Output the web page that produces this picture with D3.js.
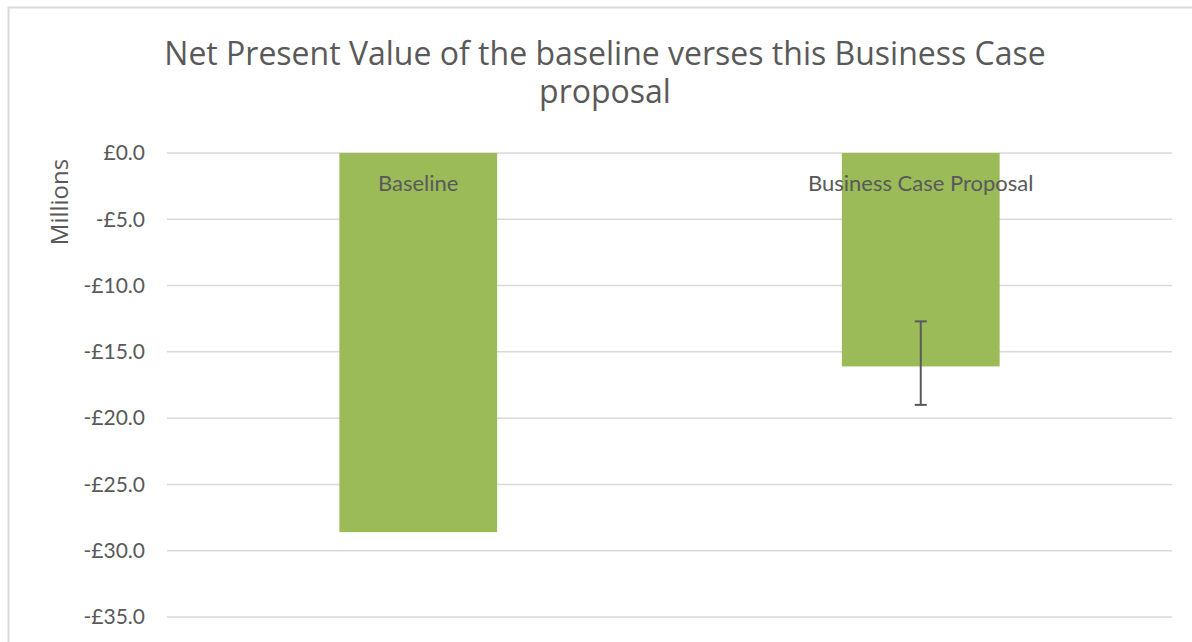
<!DOCTYPE html>
<html>
<head>
<meta charset="utf-8">
<script src="https://cdn.jsdelivr.net/npm/d3@7"></script>
<style>
  html, body { margin: 0; padding: 0; background: #fff; }
  svg { display: block; }
</style>
</head>
<body>
<svg id="chart" width="1192" height="642"></svg>
<script>
// NPV (in £ millions) for each option
const categories = ["Baseline", "Business Case Proposal"];
const npvValues = [-28.6, -16.1];
// custom error range for each option (null = no error bar)
const errorHigh = [null, -12.7];
const errorLow = [null, -19.0];
const yTicks = [0, -5, -10, -15, -20, -25, -30, -35];
const titleLines = ["Net Present Value of the baseline verses this Business Case", "proposal"];
const yAxisTitle = "Millions";

const svg = d3.select("#chart");
const W = 1192, H = 642;
const plot = { left: 167, right: 1172, top: 153, bottom: 617 };

// outer chart border (top and left edges visible)
svg.append("path")
  .attr("d", `M8.5,${H} V7.5 H${W}`)
  .attr("fill", "none")
  .attr("stroke", "#d9d9d9")
  .attr("stroke-width", 2);

const x = d3.scaleBand()
  .domain(categories)
  .range([plot.left, plot.right])
  .paddingInner(0.686)
  .paddingOuter(0.343);

const y = d3.scaleLinear()
  .domain([0, -35])
  .range([plot.top, plot.bottom]);

// gridlines
svg.append("g")
  .selectAll("line")
  .data(yTicks)
  .join("line")
  .attr("x1", plot.left)
  .attr("x2", plot.right)
  .attr("y1", d => y(d))
  .attr("y2", d => y(d))
  .attr("stroke", "#d9d9d9")
  .attr("stroke-width", 1.5);

// y axis labels
const fmt = d => (d < 0 ? "-" : "") + "£" + Math.abs(d).toFixed(1);
const yAxis = d3.axisLeft(y)
  .tickValues(yTicks)
  .tickFormat(fmt)
  .tickSize(0)
  .tickPadding(22);
const gy = svg.append("g")
  .attr("transform", `translate(${plot.left},0)`)
  .call(yAxis);
gy.select(".domain").remove();
gy.selectAll("text")
  .attr("fill", "#595959")
  .style("font-family", "Lato, 'Open Sans', sans-serif")
  .style("font-size", "21px");

// bars
svg.append("g")
  .selectAll("rect")
  .data(categories)
  .join("rect")
  .attr("x", d => x(d))
  .attr("width", x.bandwidth())
  .attr("y", (d, i) => y(Math.max(0, npvValues[i])))
  .attr("height", (d, i) => Math.abs(y(npvValues[i]) - y(0)))
  .attr("fill", "#9bbb59");

// error bars
const errG = svg.append("g")
  .attr("stroke", "#595959")
  .attr("stroke-width", 2);
categories.forEach((c, i) => {
  if (errorHigh[i] == null) return;
  const cx = x(c) + x.bandwidth() / 2;
  const y1 = y(errorHigh[i]), y2 = y(errorLow[i]);
  errG.append("line").attr("x1", cx).attr("x2", cx).attr("y1", y1).attr("y2", y2);
  errG.append("line").attr("x1", cx - 6).attr("x2", cx + 6).attr("y1", y1).attr("y2", y1);
  errG.append("line").attr("x1", cx - 6).attr("x2", cx + 6).attr("y1", y2).attr("y2", y2);
});

// category labels inside the bars
svg.append("g")
  .selectAll("text")
  .data(categories)
  .join("text")
  .attr("x", d => x(d) + x.bandwidth() / 2)
  .attr("y", y(0) + 38)
  .attr("text-anchor", "middle")
  .attr("fill", "#595959")
  .style("font-family", "Lato, 'Open Sans', sans-serif")
  .style("font-size", "22px")
  .text(d => d);

// y axis title
svg.append("text")
  .attr("transform", `translate(68,202) rotate(-90)`)
  .attr("text-anchor", "middle")
  .attr("fill", "#595959")
  .style("font-family", "'Open Sans', sans-serif")
  .style("font-size", "24px")
  .text(yAxisTitle);

// chart title
svg.append("text")
  .attr("x", 605)
  .attr("y", 65)
  .attr("text-anchor", "middle")
  .attr("fill", "#595959")
  .style("font-family", "'Open Sans', sans-serif")
  .style("font-size", "32px")
  .selectAll("tspan")
  .data(titleLines)
  .join("tspan")
  .attr("x", 605)
  .attr("dy", (d, i) => i === 0 ? 0 : 38)
  .text(d => d);
</script>
</body>
</html>
